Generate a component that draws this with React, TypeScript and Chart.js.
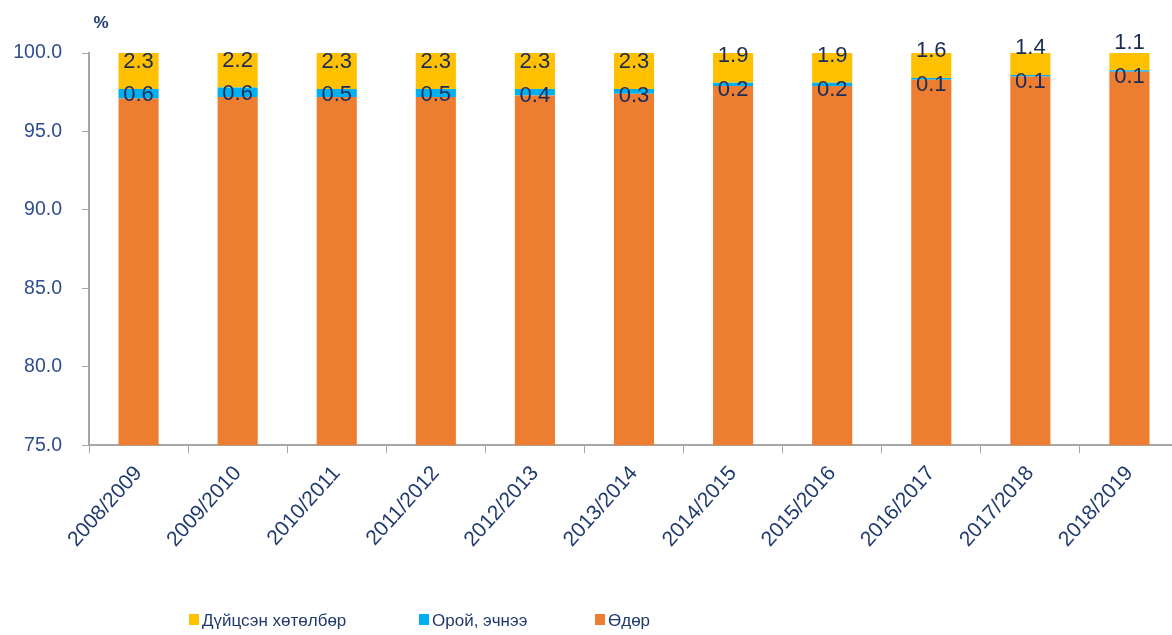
import React, { useEffect, useRef } from "react";
import { Chart, registerables } from "chart.js";

Chart.register(...registerables);

const categories = [
  "2008/2009", "2009/2010", "2010/2011", "2011/2012", "2012/2013", "2013/2014",
  "2014/2015", "2015/2016", "2016/2017", "2017/2018", "2018/2019",
];
const oderValues = [97.1, 97.2, 97.2, 97.2, 97.3, 97.4, 97.9, 97.9, 98.3, 98.5, 98.8];
const oroiValues = [0.6, 0.6, 0.5, 0.5, 0.4, 0.3, 0.2, 0.2, 0.1, 0.1, 0.1];
const duitsenValues = [2.3, 2.2, 2.3, 2.3, 2.3, 2.3, 1.9, 1.9, 1.6, 1.4, 1.1];
const seriesNames = ["Өдөр", "Орой, эчнээ", "Дүйцсэн хөтөлбөр"];
const seriesColors = ["#ED7D31", "#00B0F0", "#FFC000"];
const yTicks = { min: 75, max: 100, step: 5 };
const unitLabel = "%";

const FONT = "'Liberation Sans', Arial, sans-serif";
const LABEL_COLOR = "#1c2b55";
const RIGHT_OVERHANG = 7;

const overhangPlugin = {
  id: "overhang",
  afterLayout(chart: any) {
    const x = chart.scales.x;
    x.right += RIGHT_OVERHANG;
    x.width += RIGHT_OVERHANG;
    chart.chartArea.right += RIGHT_OVERHANG;
    chart.chartArea.width += RIGHT_OVERHANG;
    x.configure();
  },
};

const labelPlugin = {
  id: "segLabels",
  afterDatasetsDraw(chart: any) {
    const ctx = chart.ctx;
    ctx.save();
    ctx.font = `22px ${FONT}`;
    ctx.fillStyle = LABEL_COLOR;
    ctx.textAlign = "center";
    ctx.textBaseline = "middle";
    chart.data.datasets.forEach((ds: any, di: number) => {
      const meta = chart.getDatasetMeta(di);
      meta.data.forEach((el: any, i: number) => {
        const v = ds.data[i];
        const text = v.toFixed(1);
        let y: number;
        if (di === 0) {
          y = (el.y + el.base) / 2;
        } else if (di === 1) {
          y = el.base - 3.5 + (0.6 - v) * 18;
        } else {
          y = el.base - 27;
        }
        ctx.fillText(text, el.x, y);
      });
    });
    ctx.restore();
  },
};

const extrasPlugin = {
  id: "extras",
  afterDraw(chart: any) {
    const ctx = chart.ctx;
    const area = chart.chartArea;
    ctx.save();
    ctx.font = `bold 17px ${FONT}`;
    ctx.fillStyle = "#1f3a6e";
    ctx.textAlign = "center";
    ctx.textBaseline = "middle";
    ctx.fillText(unitLabel, area.left + 12, 23);
    ctx.font = `17px ${FONT}`;
    ctx.textAlign = "left";
    const legendX = [189, 419, 595];
    const order = [2, 1, 0];
    order.forEach((di, k) => {
      const ds = chart.data.datasets[di];
      const x = legendX[k];
      const y = 620;
      ctx.fillStyle = ds.backgroundColor;
      ctx.fillRect(x, y - 6, 10, 11);
      ctx.fillStyle = "#1f3a6e";
      ctx.fillText(ds.label, x + 13, y + 1);
    });
    ctx.restore();
  },
};

export default function App() {
  const ref = useRef<HTMLCanvasElement>(null);
  useEffect(() => {
    document.body.style.margin = "0";
    const chart = new Chart(ref.current!, {
      type: "bar",
      data: {
        labels: categories,
        datasets: [
          { label: seriesNames[0], data: oderValues, backgroundColor: seriesColors[0] },
          { label: seriesNames[1], data: oroiValues, backgroundColor: seriesColors[1] },
          { label: seriesNames[2], data: duitsenValues, backgroundColor: seriesColors[2] },
        ],
      },
      options: {
        animation: false,
        responsive: false,
        devicePixelRatio: 1,
        layout: { padding: { top: 53, left: 13, right: 0, bottom: 75 } },
        datasets: { bar: { categoryPercentage: 1, barPercentage: 0.405 } },
        plugins: { legend: { display: false }, tooltip: { enabled: false } },
        scales: {
          x: {
            stacked: true,
            afterFit: (scale: any) => {
              scale.paddingLeft = 0;
              scale.paddingRight = 0;
            },
            grid: { drawOnChartArea: false, color: "#a6a6a6", tickLength: 8, offset: true },
            border: { color: "#a6a6a6", width: 2 },
            ticks: {
              minRotation: 48,
              maxRotation: 48,
              font: { family: FONT, size: 21 },
              color: "#1f3a6e",
              padding: 8,
            },
          },
          y: {
            stacked: true,
            min: yTicks.min,
            max: yTicks.max,
            afterFit: (scale: any) => {
              scale.width = 76;
              scale.paddingTop = 0;
              scale.paddingBottom = 0;
            },
            grid: { drawOnChartArea: false, color: "#a6a6a6", tickLength: 7 },
            border: { color: "#a6a6a6", width: 2 },
            ticks: {
              stepSize: yTicks.step,
              callback: (v: any) => Number(v).toFixed(1),
              font: { family: FONT, size: 19.5 },
              color: "#2f4d8c",
              padding: 20,
            },
          },
        },
      },
      plugins: [overhangPlugin, labelPlugin, extrasPlugin],
    });
    return () => chart.destroy();
  }, []);
  return <canvas ref={ref} width={1172} height={635} style={{ display: "block" }} />;
}
